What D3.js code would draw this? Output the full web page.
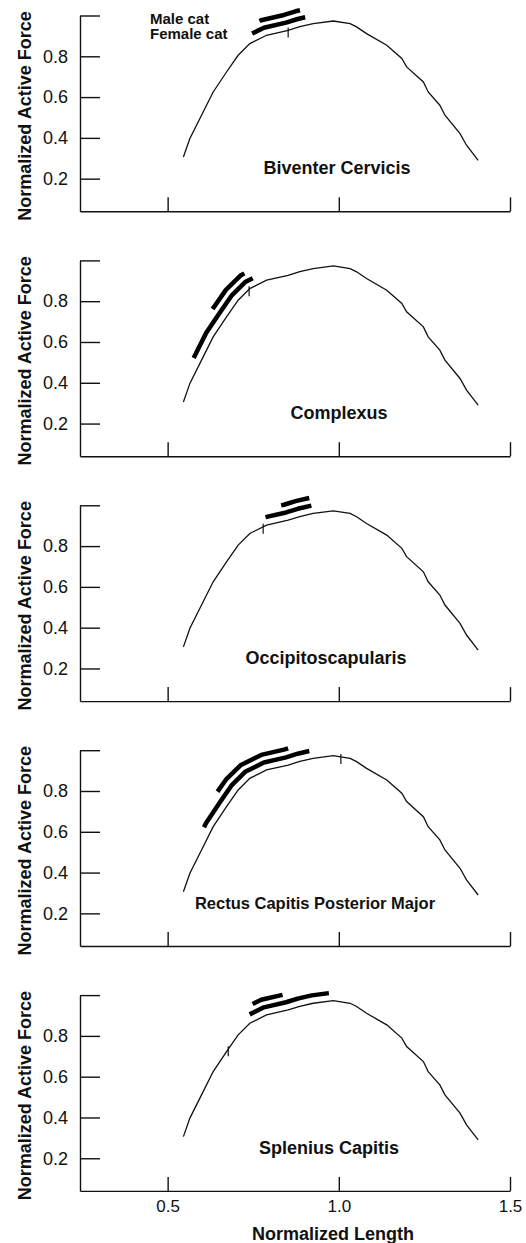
<!DOCTYPE html>
<html>
<head>
<meta charset="utf-8">
<script src="https://cdn.jsdelivr.net/npm/d3@7"></script>
<style>
    body { margin: 0; background: #fff; }
    svg { display: block; font-family: "Liberation Sans", Arial, Helvetica, sans-serif; }
</style>
</head>
<body>
<svg id="chart"></svg>
<script>
'use strict';

const WIDTH = 526;
const HEIGHT = 1243;
const PANEL_STEP = 244.9;
const FEMALE_OFFSET = 8;
const MALE_OFFSET = 16;

// force-length curve, same for every muscle
const curveX = [0.546, 0.565, 0.599, 0.633, 0.672, 0.706, 0.740, 0.789, 0.852, 0.886, 0.925, 0.984,
                1.033, 1.052, 1.081, 1.140, 1.184, 1.198, 1.247, 1.261, 1.295, 1.310, 1.354, 1.373, 1.407];
const curveY = [0.306, 0.397, 0.511, 0.625, 0.723, 0.805, 0.862, 0.903, 0.927, 0.945, 0.960, 0.973,
                0.960, 0.944, 0.911, 0.854, 0.789, 0.748, 0.674, 0.625, 0.560, 0.511, 0.421, 0.364, 0.290];

const muscles = ["Biventer Cervicis", "Complexus", "Occipitoscapularis",
                 "Rectus Capitis Posterior Major", "Splenius Capitis"];
// operating ranges (normalized length)
const maleRange = [[0.789, 0.897], [0.670, 0.745], [0.842, 0.924], [0.684, 0.866], [0.769, 0.846]];
const femaleRange = [[0.757, 0.907], [0.597, 0.759], [0.791, 0.925], [0.627, 0.919], [0.750, 0.974]];
const markX = [0.852, 0.738, 0.779, 1.006, 0.677];

const yTicks = [0.2, 0.4, 0.6, 0.8, 1.0];
const xTicks = [0.5, 1.0, 1.5];
const legendLabels = ["Male cat", "Female cat"];

// layout of the titles (pixels)
const TITLE_X = [337, 339, 326, 315, 329];
const TITLE_SIZE = [18, 18, 18, 16.5, 18];
const TITLE_Y = 174;

const svg = d3.select("svg#chart")
              .attr("width", WIDTH)
              .attr("height", HEIGHT);

const xScale = d3.scaleLinear()
                 .domain([0.244, 1.5])
                 .range([80, 510]);
const yScale = d3.scaleLinear()
                 .domain([0.04, 1.0])
                 .range([211.3, 15.5]);

const curve = curveX.map((x, i) => ({x: x, y: curveY[i]}));
const px = curve.map(d => [xScale(d.x), yScale(d.y)]);

const interpAt = (xv) => {
    const i = Math.max(1, Math.min(curve.length - 1, d3.bisector(d => d.x).left(curve, xv)));
    const a = curve[i - 1], b = curve[i];
    const t = (xv - a.x) / (b.x - a.x);
    return [xScale(xv), yScale(a.y + t * (b.y - a.y)), i];
};

const normalAt = (p0, p1) => {
    const dx = p1[0] - p0[0], dy = p1[1] - p0[1];
    const len = Math.hypot(dx, dy);
    return [dy / len, -dx / len];
};

// offset copy of the curve between two lengths, shifted perpendicular (upwards)
const offsetSegment = (range, dist) => {
    const start = interpAt(range[0]);
    const end = interpAt(range[1]);
    const pts = [];
    const n0 = normalAt(px[start[2] - 1], px[start[2]]);
    pts.push([start[0] + n0[0] * dist, start[1] + n0[1] * dist]);
    for (let i = start[2]; i < end[2]; i++) {
        const na = normalAt(px[i - 1], px[i]);
        const nb = normalAt(px[i], px[i + 1]);
        const nx = (na[0] + nb[0]) / 2, ny = (na[1] + nb[1]) / 2;
        const l = Math.hypot(nx, ny);
        pts.push([px[i][0] + nx / l * dist, px[i][1] + ny / l * dist]);
    }
    const n1 = normalAt(px[end[2] - 1], px[end[2]]);
    pts.push([end[0] + n1[0] * dist, end[1] + n1[1] * dist]);
    return pts;
};

const line = d3.line().x(d => xScale(d.x)).y(d => yScale(d.y));

muscles.forEach((name, i) => {
    const g = svg.append("g")
                 .attr("transform", "translate(0," + (i * PANEL_STEP) + ")");
    const last = i === muscles.length - 1;

    // y axis
    const yAxis = d3.axisLeft(yScale)
                    .tickValues(yTicks)
                    .tickSizeInner(-20)
                    .tickSizeOuter(0)
                    .tickPadding(12)
                    .tickFormat(d => d === 1 ? "" : d3.format(".1f")(d));
    const ya = g.append("g")
                .attr("transform", "translate(80,0)")
                .call(yAxis);
    ya.selectAll("text").attr("font-size", 18).attr("fill", "#111");

    // x axis
    const xAxis = d3.axisBottom(xScale)
                    .tickValues(xTicks)
                    .tickSizeInner(-14)
                    .tickSizeOuter(0)
                    .tickPadding(9)
                    .tickFormat(d => last ? d3.format(".1f")(d) : "");
    const xa = g.append("g")
                .attr("transform", "translate(0," + yScale(0.04) + ")")
                .call(xAxis);
    xa.selectAll("text").attr("font-size", 17).attr("fill", "#111");

    g.selectAll(".domain, .tick line")
     .attr("stroke", "#111")
     .attr("stroke-width", 1.4);

    // y label
    g.append("text")
     .attr("transform", "translate(31,116) rotate(-90)")
     .attr("text-anchor", "middle")
     .attr("font-size", 18)
     .attr("font-weight", "bold")
     .attr("fill", "#111")
     .text("Normalized Active Force");

    // force-length curve
    g.append("path")
     .datum(curve)
     .attr("fill", "none")
     .attr("stroke", "#111")
     .attr("stroke-width", 1.3)
     .attr("d", line);

    // small mark on the curve
    const m = interpAt(markX[i]);
    g.append("line")
     .attr("x1", m[0]).attr("x2", m[0])
     .attr("y1", m[1] - 3).attr("y2", m[1] + 7)
     .attr("stroke", "#111")
     .attr("stroke-width", 1.2);

    // operating ranges
    [[femaleRange[i], FEMALE_OFFSET], [maleRange[i], MALE_OFFSET]].forEach(([r, off]) => {
        g.append("path")
         .attr("fill", "none")
         .attr("stroke", "#000")
         .attr("stroke-width", 4.5)
         .attr("stroke-linejoin", "round")
         .attr("d", d3.line()(offsetSegment(r, off)));
    });

    // muscle name
    g.append("text")
     .attr("x", TITLE_X[i])
     .attr("y", TITLE_Y)
     .attr("text-anchor", "middle")
     .attr("font-size", TITLE_SIZE[i])
     .attr("font-weight", "bold")
     .attr("fill", "#111")
     .text(name);

    if (i === 0) {
        g.selectAll("text.legend")
         .data(legendLabels)
         .enter()
         .append("text")
         .attr("class", "legend")
         .attr("x", 150)
         .attr("y", (d, k) => 23.5 + k * 15)
         .attr("font-size", 15)
         .attr("font-weight", "bold")
         .attr("fill", "#111")
         .text(d => d);
    }
});

svg.append("text")
   .attr("x", 333)
   .attr("y", 1240)
   .attr("text-anchor", "middle")
   .attr("font-size", 18)
   .attr("font-weight", "bold")
   .attr("fill", "#111")
   .text("Normalized Length");
</script>
</body>
</html>
